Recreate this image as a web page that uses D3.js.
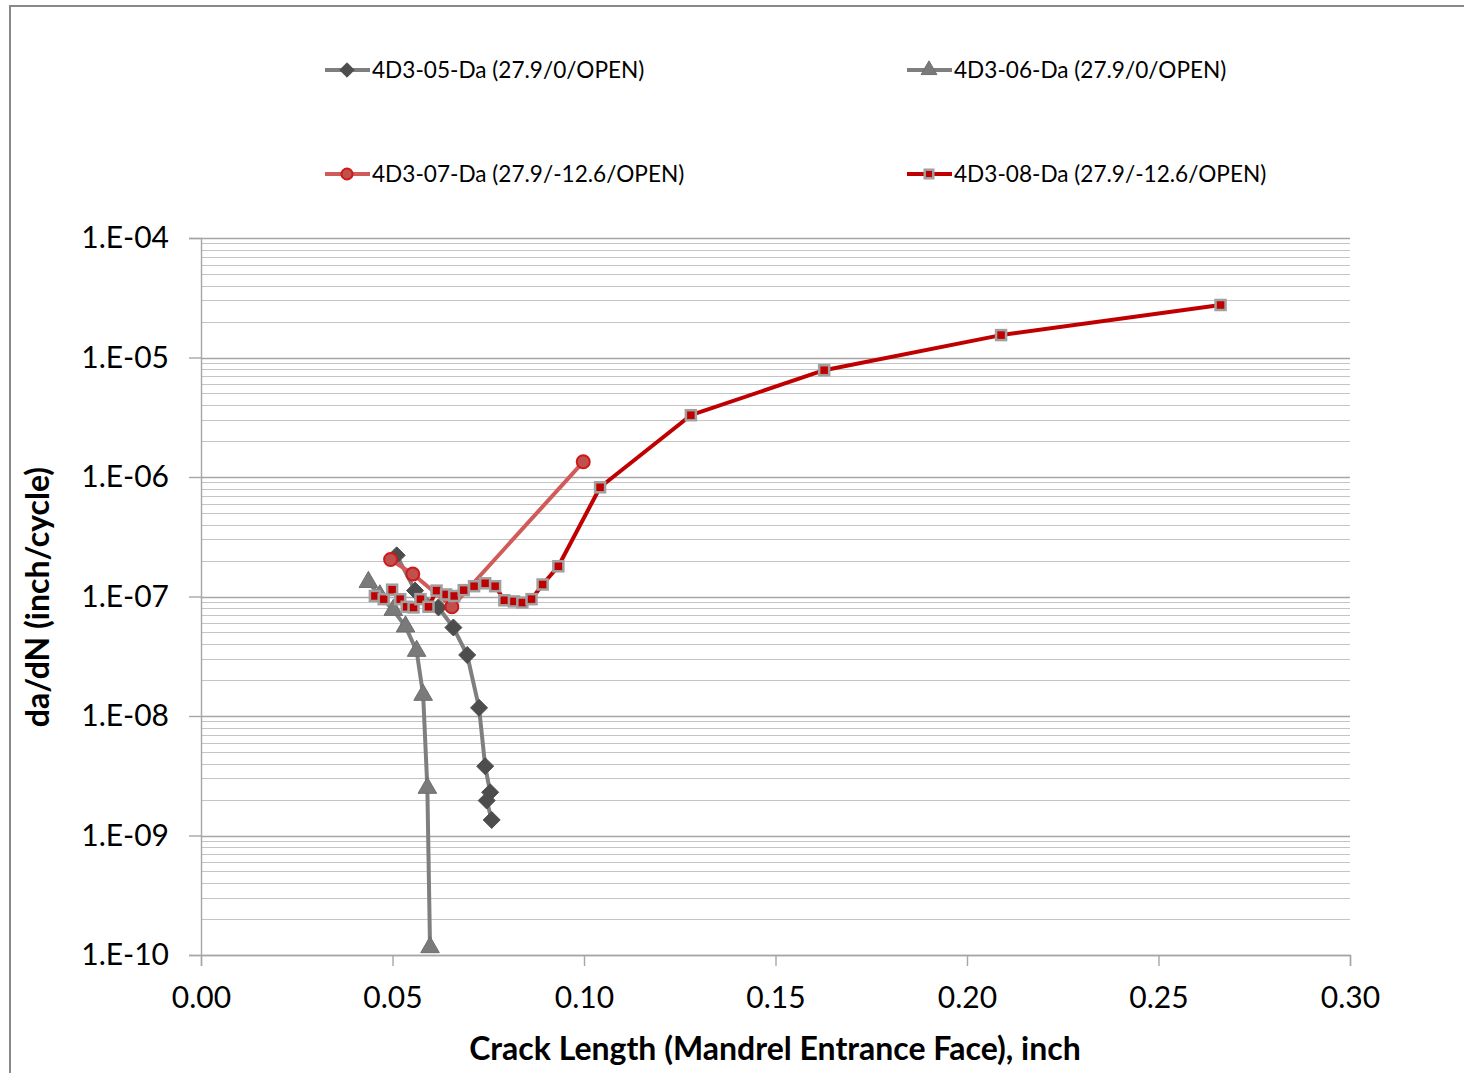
<!DOCTYPE html>
<html>
<head>
<meta charset="utf-8">
<script src="https://cdn.jsdelivr.net/npm/d3@7"></script>
<style>
  html, body { margin: 0; padding: 0; background: #fff; }
  svg { display: block; }
  text { font-family: Lato, "Open Sans", sans-serif; fill: #000; }
</style>
</head>
<body>
<svg id="chart" width="1464" height="1073"></svg>
<script>
// Crack growth rate vs crack length, four specimens
const crack05 = [0.0511, 0.0559, 0.0620, 0.0659, 0.0695, 0.0726, 0.0742, 0.0755, 0.0746, 0.0759];
const rate05  = [2.21e-7, 1.12e-7, 8.1e-8, 5.5e-8, 3.24e-8, 1.17e-8, 3.8e-9, 2.3e-9, 1.96e-9, 1.35e-9];

const crack06 = [0.0437, 0.0467, 0.0502, 0.0534, 0.0563, 0.0580, 0.0591, 0.0598];
const rate06  = [1.32e-7, 1.02e-7, 7.7e-8, 5.6e-8, 3.5e-8, 1.5e-8, 2.5e-9, 1.16e-10];

const crack07 = [0.0495, 0.0553, 0.0655, 0.0998];
const rate07  = [2.04e-7, 1.54e-7, 8.2e-8, 1.34e-6];

const crack08 = [0.0454, 0.0477, 0.0499, 0.0520, 0.0537, 0.0555, 0.0573, 0.0594, 0.0615,
                 0.0640, 0.0661, 0.0686, 0.0713, 0.0742, 0.0768, 0.0792, 0.0817, 0.0839,
                 0.0863, 0.0892, 0.0933, 0.1042, 0.1279, 0.1627, 0.2089, 0.2662];
const rate08  = [1.01e-7, 9.5e-8, 1.14e-7, 9.5e-8, 8.2e-8, 8.1e-8, 9.5e-8, 8.2e-8, 1.12e-7,
                 1.04e-7, 1.01e-7, 1.13e-7, 1.22e-7, 1.29e-7, 1.22e-7, 9.3e-8, 9.1e-8, 8.9e-8,
                 9.5e-8, 1.26e-7, 1.79e-7, 8.2e-7, 3.29e-6, 7.83e-6, 1.54e-5, 2.75e-5];

const seriesNames = ["4D3-05-Da (27.9/0/OPEN)", "4D3-06-Da (27.9/0/OPEN)",
                     "4D3-07-Da (27.9/-12.6/OPEN)", "4D3-08-Da (27.9/-12.6/OPEN)"];
const xTicks = [0, 0.05, 0.10, 0.15, 0.20, 0.25, 0.30];
const yTicks = [1e-10, 1e-9, 1e-8, 1e-7, 1e-6, 1e-5, 1e-4];
const xTitle = "Crack Length (Mandrel Entrance Face), inch";
const yTitle = "da/dN (inch/cycle)";

const svg = d3.select("#chart");

// outer chart-area frame
svg.append("rect").attr("x", 10).attr("y", 6).attr("width", 1520).attr("height", 1120)
  .attr("fill", "#fff").attr("stroke", "#898989").attr("stroke-width", 2);

const x = d3.scaleLinear().domain([0, 0.30]).range([201, 1350]);
const y = d3.scaleLog().domain([1e-10, 1e-4]).range([955, 238]);

// horizontal gridlines: minor (2..9 of each decade) then major
const minor = [];
for (let e = -10; e < -4; e++) for (let m = 2; m <= 9; m++) minor.push(m * Math.pow(10, e));
const grid = svg.append("g");
grid.selectAll("line.minor").data(minor).join("line")
  .attr("x1", x(0)).attr("x2", x(0.30))
  .attr("y1", d => Math.round(y(d)) + 0.5).attr("y2", d => Math.round(y(d)) + 0.5)
  .attr("stroke", "#c4c4c4").attr("stroke-width", 1.2);
grid.selectAll("line.major").data(yTicks).join("line")
  .attr("x1", x(0)).attr("x2", x(0.30))
  .attr("y1", d => Math.round(y(d)) + 0.5).attr("y2", d => Math.round(y(d)) + 0.5)
  .attr("stroke", "#a6a6a6").attr("stroke-width", 1.4);

// axes
const fmtY = d => "1.E-" + String(Math.round(-Math.log10(d))).padStart(2, "0");
const yAxis = svg.append("g").attr("transform", "translate(201,0)")
  .call(d3.axisLeft(y).tickValues(yTicks).tickFormat(fmtY).tickSize(12).tickPadding(20));
const xAxis = svg.append("g").attr("transform", "translate(0,955)")
  .call(d3.axisBottom(x).tickValues(xTicks).tickFormat(d3.format(".2f")).tickSize(11).tickPadding(21));
[yAxis, xAxis].forEach(a => {
  a.select(".domain").attr("stroke", "#a6a6a6").attr("stroke-width", 1.4);
  a.selectAll(".tick line").attr("stroke", "#a6a6a6").attr("stroke-width", 1.4);
  a.selectAll("text").attr("font-family", "Lato, sans-serif").attr("font-size", 30).attr("fill", "#000");
});
xAxis.selectAll("text").attr("dy", "0.71em");

// axis titles
svg.append("text").attr("x", 775).attr("y", 1060).attr("text-anchor", "middle")
  .attr("font-size", 32).attr("font-weight", "bold").text(xTitle);
svg.append("text").attr("transform", "translate(49,597) rotate(-90)").attr("text-anchor", "middle")
  .attr("font-size", 32).attr("font-weight", "bold").text(yTitle);

// marker shapes
const diamondPath = r => `M0,${-r}L${r},0L0,${r}L${-r},0Z`;
const triangle = d3.symbol().type(d3.symbolTriangle).size(150);

const styles = [
  { line: "#7f7f7f", draw: (g, s) => g.append("path").attr("d", diamondPath(8.5 * s)).attr("fill", "#4d4d4d").attr("stroke", "#4d4d4d").attr("stroke-width", 1) },
  { line: "#7f7f7f", draw: (g, s) => g.append("path").attr("d", triangle.size(150 * s * s)()).attr("fill", "#7a7a7a").attr("stroke", "#6f6f6f").attr("stroke-width", 1) },
  { line: "#d15b59", draw: (g, s) => g.append("circle").attr("r", 6.5 * s).attr("fill", "#c0504d").attr("stroke", "#d01818").attr("stroke-width", 2) },
  { line: "#c00000", draw: (g, s) => g.append("rect").attr("x", -5 * s).attr("y", -5 * s).attr("width", 10 * s).attr("height", 10 * s).attr("fill", "#c00000").attr("stroke", "#a0a0a0").attr("stroke-width", 2.5) }
];

const series = [
  d3.zip(crack05, rate05),
  d3.zip(crack06, rate06),
  d3.zip(crack07, rate07),
  d3.zip(crack08, rate08)
];

const line = d3.line().x(d => x(d[0])).y(d => y(d[1]));
const plot = svg.append("g");
series.forEach((pts, i) => {
  const st = styles[i];
  plot.append("path").datum(pts).attr("d", line)
    .attr("fill", "none").attr("stroke", st.line).attr("stroke-width", 4).attr("stroke-linejoin", "round");
  plot.selectAll(null).data(pts).join("g")
    .attr("transform", d => `translate(${x(d[0])},${y(d[1])})`)
    .each(function () { st.draw(d3.select(this), 1); });
});

// legend (two columns, two rows)
const legendPos = [[325, 70], [907, 70], [325, 174], [907, 174]];
seriesNames.forEach((name, i) => {
  const [lx, ly] = legendPos[i];
  const g = svg.append("g").attr("transform", `translate(${lx},${ly})`);
  g.append("line").attr("x1", 0).attr("x2", 45).attr("y1", 0).attr("y2", 0)
    .attr("stroke", styles[i].line).attr("stroke-width", 4);
  const m = g.append("g").attr("transform", "translate(22,0)");
  styles[i].draw(m, 0.85);
  g.append("text").attr("x", 47).attr("y", 0).attr("dy", "0.35em")
    .attr("font-size", 22.6).text(name);
});
</script>
</body>
</html>
